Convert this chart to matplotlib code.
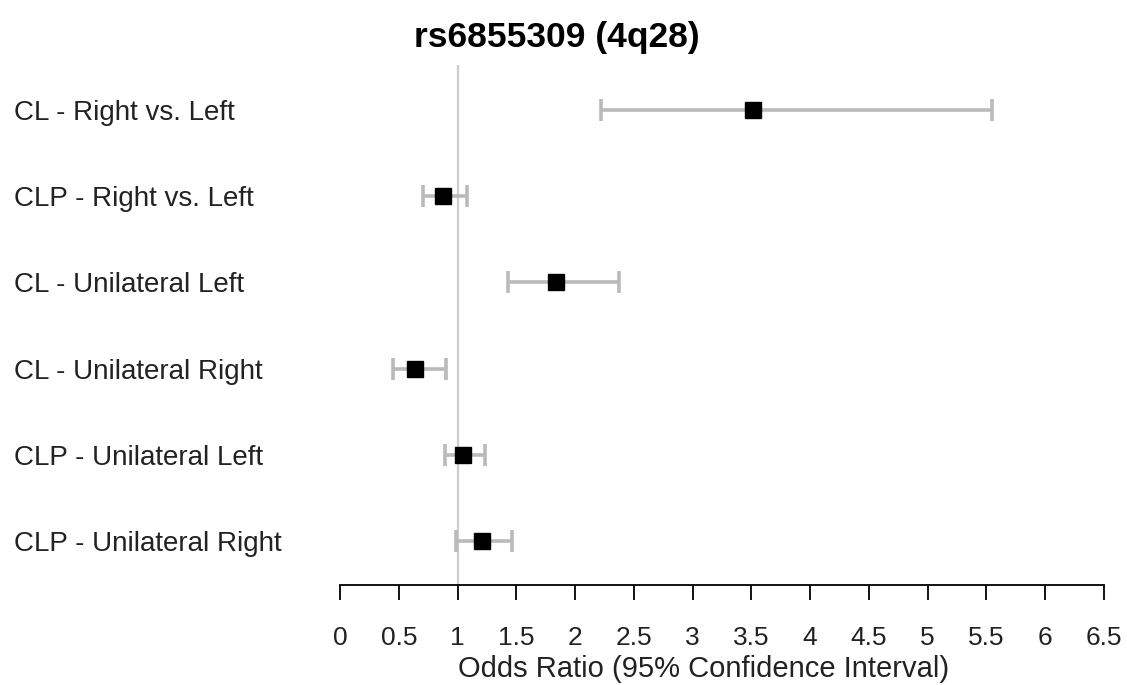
import matplotlib
matplotlib.use('Agg')
from matplotlib import pyplot as plt
from matplotlib.transforms import blended_transform_factory
import numpy as np

plt.rcParams['font.family'] = ['Liberation Sans', 'DejaVu Sans']

labels = ['CL - Right vs. Left', 'CLP - Right vs. Left', 'CL - Unilateral Left',
          'CL - Unilateral Right', 'CLP - Unilateral Left', 'CLP - Unilateral Right']
odds = [3.51, 0.875, 1.84, 0.64, 1.05, 1.21]
lower = [2.22, 0.71, 1.43, 0.45, 0.89, 0.99]
upper = [5.55, 1.08, 2.37, 0.90, 1.23, 1.46]
xticks = [0, 0.5, 1, 1.5, 2, 2.5, 3, 3.5, 4, 4.5, 5, 5.5, 6, 6.5]

fig = plt.figure(figsize=(11.27, 6.85), dpi=100)
ax = fig.add_axes([340/1127, 1-585/685, (1104-340)/1127, (585-65)/685])

y = np.arange(len(labels))
odds = np.array(odds)
err = [odds - np.array(lower), np.array(upper) - odds]

ax.axvline(1, color='#cccccc', lw=1.6, zorder=1)
ax.errorbar(odds, y, xerr=err, fmt='none', ecolor='#bababa', elinewidth=2.6,
            capsize=8, capthick=2.6, zorder=2)
ax.plot(odds, y, 's', color='black', markersize=11, zorder=3)

ax.set_xlim(0, 6.5)
ax.set_ylim(5.51, -0.52)
for s in ['top', 'right', 'left']:
    ax.spines[s].set_visible(False)
ax.spines['bottom'].set_linewidth(1.3)
ax.set_yticks([])
ax.set_xticks(xticks)
ax.set_xticklabels([f'{t:g}' for t in xticks])
ax.tick_params(axis='x', direction='out', length=11, width=1.3, pad=18.5, labelsize=19,
               labelcolor='#222222')
ax.set_xlabel('Odds Ratio (95% Confidence Interval)', fontsize=21, labelpad=3.5, color='#222222')
ax.xaxis.set_label_coords((704-340)/764, -0.135)

tr = blended_transform_factory(fig.transFigure, ax.transData)
for yi, lab in zip(y, labels):
    ax.text(14/1127, yi, lab, transform=tr, ha='left', va='center_baseline',
            fontsize=20, color='#222222')

fig.text(557/1127, 1-47/685, 'rs6855309 (4q28)', ha='center', va='baseline',
         fontsize=25.5, fontweight='bold')

fig.savefig('out.png', dpi=100)
